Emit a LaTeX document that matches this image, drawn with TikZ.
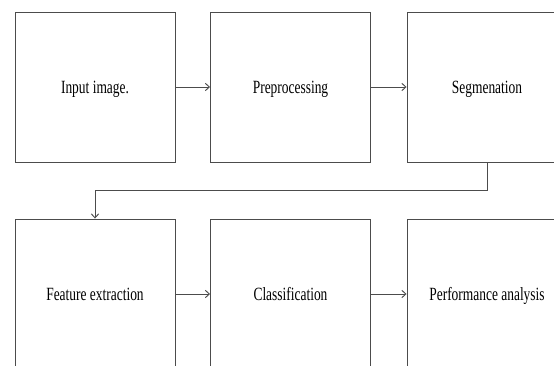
\documentclass[tikz,border=0pt]{standalone}
\usepackage{fontspec}
\setmainfont{Liberation Serif}[FakeStretch=0.72]
\usetikzlibrary{arrows.meta}
\begin{document}
\begin{tikzpicture}[x=0.75pt,y=-0.75pt,
  box/.style={draw=black!70, line width=0.7pt, rectangle, minimum width=120pt, minimum height=112.5pt, inner sep=0pt, text height=12.4pt, text depth=3pt, font=\fontsize{14pt}{16pt}\selectfont},
  conn/.style={draw=black!70, line width=0.7pt, -{Straight Barb[length=3pt,width=5.5pt]}}]
\useasboundingbox (0,0) rectangle (554,365);
\clip (0,0) rectangle (554,365);
\fill[white] (0,0) rectangle (554,365);
\node[box] (a) at (95,87) {Input image.};
\node[box] (b) at (290.5,87) {Preprocessing};
\node[box] (c) at (487,87) {Segmenation};
\node[box] (d) at (95,294) {Feature extraction};
\node[box] (e) at (290.5,294) {Classification};
\node[box] (f) at (487,294) {Performance analysis};
\draw[conn] (a) -- (b);
\draw[conn] (b) -- (c);
\coordinate (k1) at (487,190);
\coordinate (k2) at (95,190);
\draw[conn] (c.south) -- (k1) -- (k2) -- (d.north);
\draw[conn] (d) -- (e);
\draw[conn] (e) -- (f);
\end{tikzpicture}
\end{document}
